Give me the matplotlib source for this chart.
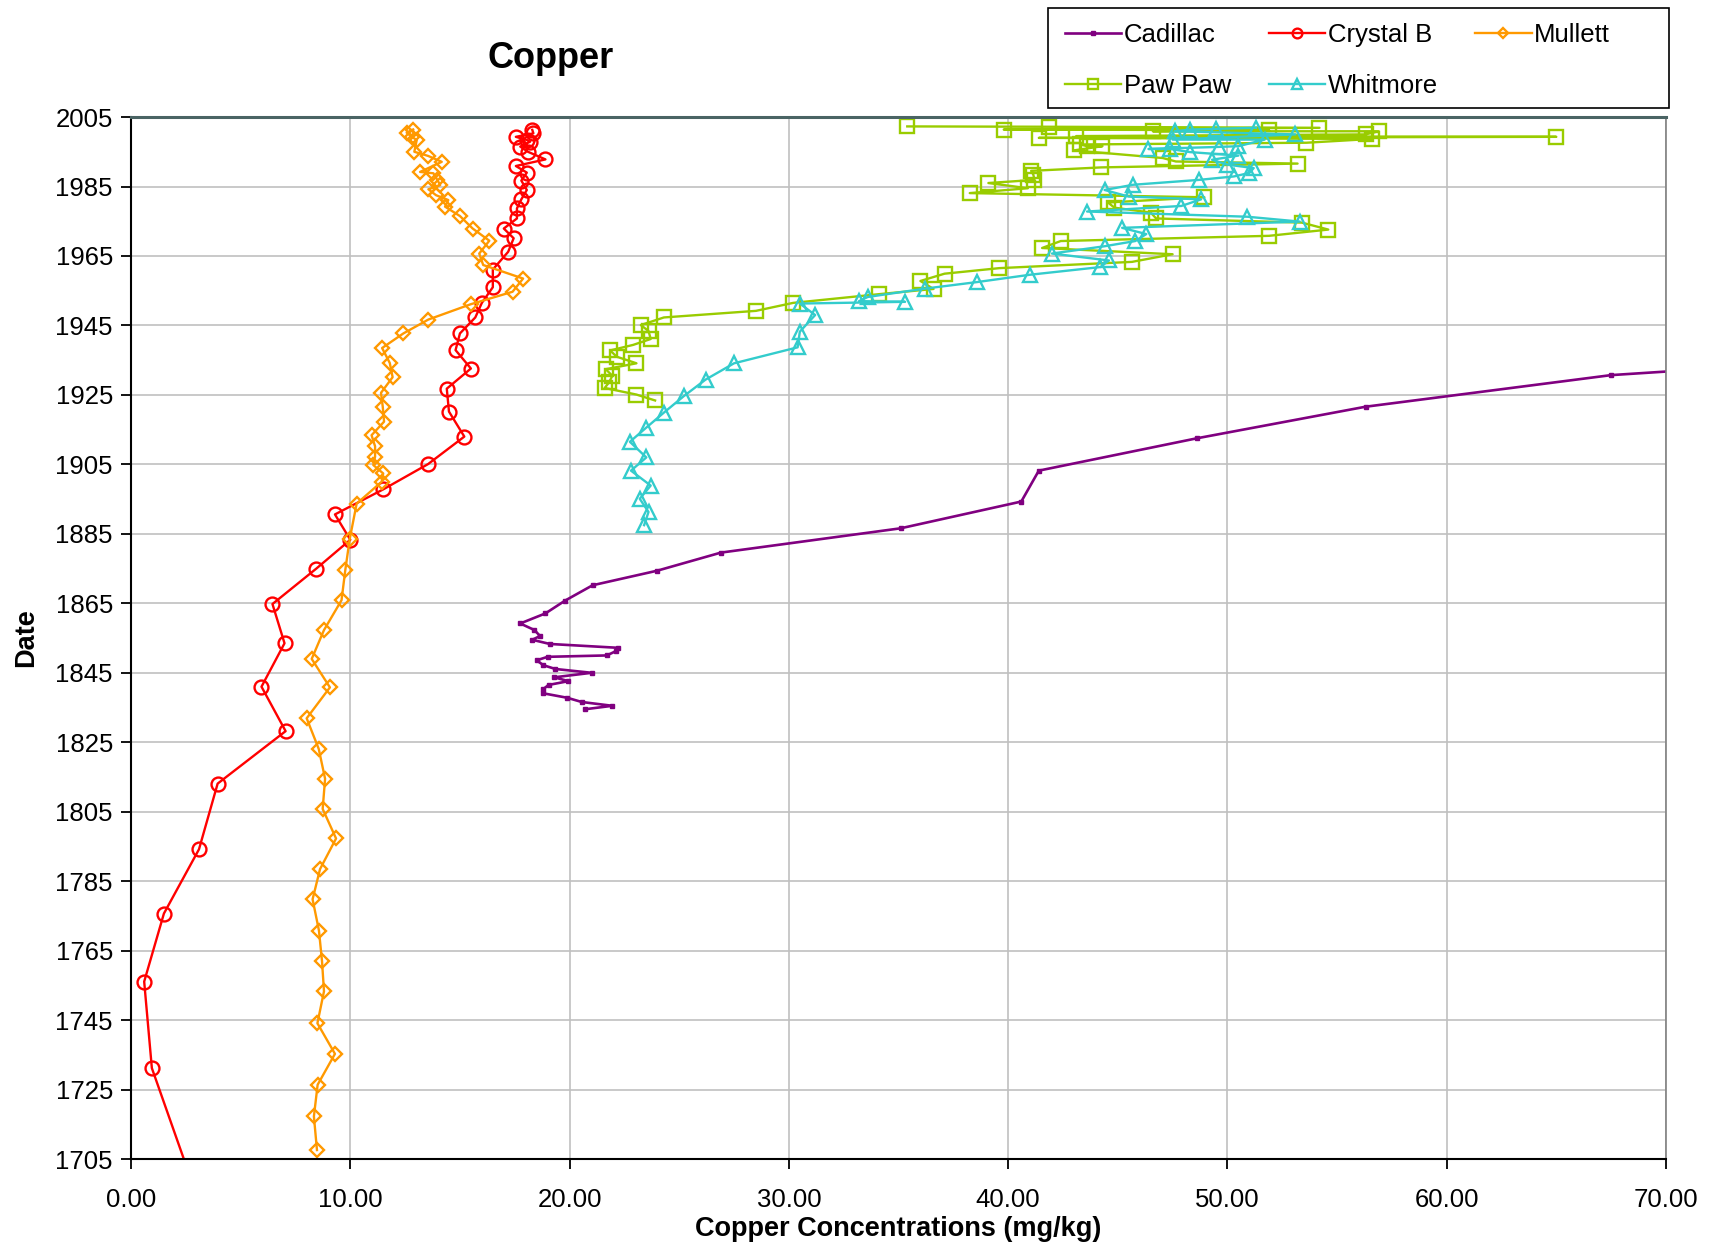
import matplotlib
matplotlib.use("Agg")
import matplotlib.pyplot as plt
from matplotlib.patches import Rectangle
from matplotlib.ticker import FormatStrFormatter, MultipleLocator

plt.rcParams['font.family'] = ['Liberation Sans', 'DejaVu Sans']

########################################################################
# data: (date, copper mg/kg), core top first

cadillac_date = [1935.0, 1930.7, 1921.6, 1912.5, 1903.2, 1894.3, 1886.6, 1879.6,
                 1874.4, 1870.2, 1865.8, 1862.1, 1859.2, 1857.3, 1855.6, 1854.5,
                 1853.3, 1852.2, 1851.2, 1850.0, 1849.6, 1848.6, 1847.2, 1846.1,
                 1845.0, 1843.7, 1842.6, 1841.5, 1840.2, 1839.1, 1837.8, 1836.6,
                 1835.5, 1834.5]
cadillac_cu = [78.0, 67.5, 56.3, 48.6, 41.4, 40.6, 35.1, 26.9,
               24.0, 21.05, 19.8, 18.9, 17.75, 18.4, 18.65, 18.3,
               19.1, 22.2, 22.1, 21.7, 19.0, 18.5, 18.8, 19.35,
               21.0, 19.3, 19.95, 19.04, 18.78, 18.8, 19.9, 20.55,
               21.95, 20.7]

crystal_date = [2001.3, 2000.3, 1999.3, 1998.4, 1997.9, 1996.5, 1995.0, 1992.8,
                1990.9, 1989.0, 1986.7, 1984.0, 1981.3, 1978.7, 1975.8, 1972.9,
                1970.1, 1966.2, 1961.1, 1956.0, 1951.5, 1947.3, 1942.7, 1937.9,
                1932.6, 1926.8, 1920.2, 1913.0, 1905.1, 1897.8, 1890.6, 1883.3,
                1875.0, 1864.8, 1853.5, 1841.0, 1828.2, 1813.1, 1794.2, 1775.7,
                1756.1, 1731.2, 1698.0]
crystal_cu = [18.3, 18.35, 17.55, 18.05, 18.2, 17.75, 18.1, 18.9,
              17.55, 18.05, 17.8, 18.05, 17.8, 17.6, 17.6, 17.0,
              17.45, 17.2, 16.5, 16.5, 16.0, 15.7, 15.0, 14.8,
              15.5, 14.4, 14.5, 15.2, 13.55, 11.5, 9.3, 10.0,
              8.45, 6.45, 7.0, 5.95, 7.05, 3.95, 3.1, 1.5,
              0.6, 0.95, 2.8]

mullett_date = [2001.4, 2000.5, 1999.3, 1998.4, 1995.0, 1993.8, 1992.1, 1989.2,
                1988.8, 1986.9, 1985.4, 1984.2, 1982.5, 1981.1, 1979.2, 1976.5,
                1972.9, 1969.4, 1965.7, 1962.4, 1958.5, 1954.7, 1951.1, 1946.7,
                1942.7, 1938.5, 1934.2, 1930.1, 1925.6, 1921.6, 1917.3, 1913.4,
                1910.2, 1907.2, 1904.8, 1902.4, 1900.0, 1893.7, 1883.4, 1874.5,
                1865.9, 1857.3, 1849.0, 1840.8, 1831.9, 1823.1, 1814.5, 1805.8,
                1797.3, 1788.5, 1779.8, 1770.8, 1762.0, 1753.3, 1744.1, 1735.3,
                1726.4, 1717.3, 1707.6]
mullett_cu = [12.87, 12.57, 12.8, 13.03, 12.92, 13.55, 14.17, 13.18,
              13.79, 13.97, 14.1, 13.56, 13.91, 14.47, 14.32, 15.0,
              15.58, 16.34, 15.88, 16.06, 17.88, 17.4, 15.49, 13.56,
              12.42, 11.45, 11.8, 11.93, 11.4, 11.48, 11.54, 10.97,
              11.13, 11.13, 11.05, 11.5, 11.43, 10.29, 9.97, 9.77,
              9.6, 8.8, 8.24, 9.07, 8.01, 8.56, 8.85, 8.74,
              9.35, 8.62, 8.28, 8.57, 8.71, 8.8, 8.5, 9.3,
              8.51, 8.34, 8.48]

pawpaw_date = [2002.3, 2002.2, 2001.9, 2001.4, 2001.2, 2000.9, 2000.9, 2000.0,
               1999.5, 1999.3, 1999.0, 1998.7, 1997.6, 1997.1, 1996.6, 1996.6,
               1995.4, 1993.2, 1992.2, 1991.6, 1990.5, 1989.5, 1988.4, 1986.9,
               1986.0, 1984.5, 1983.1, 1981.9, 1980.4, 1978.9, 1977.5, 1975.8,
               1974.6, 1972.6, 1970.8, 1969.3, 1967.3, 1965.5, 1963.3, 1961.5,
               1959.9, 1957.8, 1955.5, 1954.0, 1951.5, 1949.2, 1947.3, 1945.1,
               1943.4, 1941.1, 1939.4, 1937.8, 1936.0, 1934.1, 1932.4, 1930.5,
               1928.6, 1927.0, 1925.1, 1923.4]
pawpaw_cu = [35.4, 41.85, 54.2, 39.8, 51.9, 46.6, 56.9, 56.3,
             43.1, 65.0, 41.4, 56.6, 53.6, 43.3, 43.6, 44.3,
             43.0, 47.05, 47.65, 53.2, 44.25, 41.05, 41.15, 41.2,
             39.1, 40.9, 38.25, 48.95, 44.55, 44.85, 46.5, 46.75,
             53.4, 54.6, 51.9, 42.4, 41.55, 47.5, 45.65, 39.6,
             37.1, 36.0, 36.6, 34.1, 30.2, 28.5, 24.3, 23.25,
             23.6, 23.7, 22.9, 21.85, 22.15, 23.05, 21.65, 21.95,
             21.8, 21.6, 23.05, 23.9]

whitmore_date = [2001.9, 2001.6, 2001.4, 2000.9, 2000.0, 1998.5, 1998.5, 1996.6,
                 1996.4, 1995.8, 1995.8, 1994.9, 1993.9, 1992.7, 1991.3, 1990.3,
                 1988.9, 1987.9, 1986.9, 1985.5, 1984.0, 1982.1, 1981.3, 1979.4,
                 1977.8, 1976.3, 1974.9, 1973.1, 1971.3, 1969.3, 1967.8, 1965.7,
                 1963.7, 1961.8, 1959.6, 1957.5, 1955.6, 1953.2, 1952.0, 1951.8,
                 1951.3, 1948.0, 1943.2, 1938.7, 1934.1, 1929.4, 1924.6, 1919.9,
                 1915.6, 1911.5, 1907.0, 1903.2, 1898.9, 1895.1, 1891.3, 1887.5]
whitmore_cu = [51.3, 49.5, 48.3, 47.6, 53.1, 47.5, 51.7, 50.5,
               49.6, 46.4, 47.4, 48.3, 50.5, 49.3, 50.0, 51.2,
               51.0, 50.3, 48.7, 45.7, 44.4, 45.5, 48.8, 47.9,
               43.6, 50.9, 53.3, 45.2, 46.3, 45.8, 44.4, 42.0,
               44.6, 44.2, 41.0, 38.6, 36.2, 33.6, 33.2, 35.3,
               30.5, 31.2, 30.5, 30.4, 27.5, 26.2, 25.2, 24.3,
               23.5, 22.75, 23.5, 22.8, 23.7, 23.2, 23.6, 23.4]

date_ticks = list(range(1705, 2006, 20))

########################################################################

fig = plt.figure(figsize=(17.15, 12.45), dpi=100)
ax = fig.add_axes([0.0764, 0.069, 0.895, 0.837])

line_kw = dict(linewidth=1.7, markerfacecolor='none', markeredgewidth=1.7)
h_cad, = ax.plot(cadillac_cu, cadillac_date, color='#800080', marker='s',
                 markersize=3.5, markerfacecolor='#800080', linewidth=1.9,
                 label='Cadillac')
h_cry, = ax.plot(crystal_cu, crystal_date, color='#FF0000', marker='o',
                 markersize=10, label='Crystal B', **line_kw)
h_mul, = ax.plot(mullett_cu, mullett_date, color='#FF9900', marker='D',
                 markersize=7.5, label='Mullett', **line_kw)
h_paw, = ax.plot(pawpaw_cu, pawpaw_date, color='#99CC00', marker='s',
                 markersize=10, label='Paw Paw', **line_kw)
h_whi, = ax.plot(whitmore_cu, whitmore_date, color='#33CCCC', marker='^',
                 markersize=10, label='Whitmore', **line_kw)

ax.set_xlim(0, 70)
ax.set_ylim(1705, 2005)
ax.xaxis.set_major_locator(MultipleLocator(10))
ax.set_yticks(date_ticks)
ax.xaxis.set_major_formatter(FormatStrFormatter('%.2f'))
ax.grid(True, color='#c0c0c0', linewidth=1.2)
ax.set_axisbelow(True)
ax.tick_params(axis='both', labelsize=18.5, direction='out', length=7,
               width=1.3, color='black')
ax.tick_params(axis='x', pad=14)
ax.tick_params(axis='y', pad=6)

for side in ('left', 'bottom'):
    ax.spines[side].set_color('black')
    ax.spines[side].set_linewidth(1.5)
ax.spines['top'].set_color('#4a6464')
ax.spines['top'].set_linewidth(2.2)
ax.spines['right'].set_color('#808080')
ax.spines['right'].set_linewidth(1.2)

ax.set_xlabel('Copper Concentrations (mg/kg)', fontsize=19.5, fontweight='bold',
              labelpad=3)
ax.set_ylabel('Date', fontsize=19.5, fontweight='bold', labelpad=12)

fig.text(0.321, 0.953, 'Copper', fontsize=26, fontweight='bold',
         ha='center', va='center')

# legend box drawn on its own so the right padding matches the reference
fig.patches.append(Rectangle((0.6111, 0.9133), 0.3621, 0.0803,
                             transform=fig.transFigure, facecolor='white',
                             edgecolor='black', linewidth=1.2, zorder=0))
leg = fig.legend([h_cad, h_paw, h_cry, h_whi, h_mul],
                 ['Cadillac', 'Paw Paw', 'Crystal B', 'Whitmore', 'Mullett'],
                 ncol=3, loc='upper left', bbox_to_anchor=(0.6134, 0.9915),
                 fontsize=18.5, frameon=False, handlelength=2.2,
                 handletextpad=0.1, columnspacing=1.45, borderpad=0.5,
                 labelspacing=1.05, borderaxespad=0.0, markerscale=0.7)

fig.savefig('out.png', dpi=100)
